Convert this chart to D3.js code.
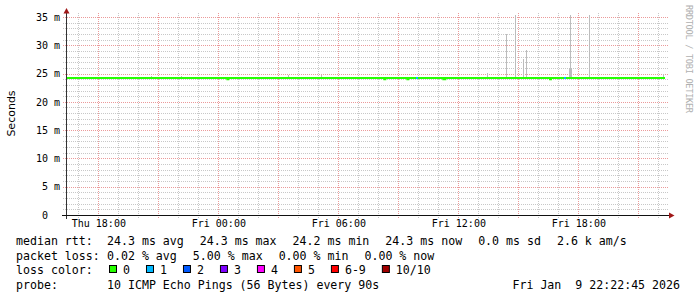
<!DOCTYPE html>
<html>
<head>
<meta charset="utf-8">
<script src="https://cdn.jsdelivr.net/npm/d3@7"></script>
<style>
  body { margin: 0; background: #fff; }
  svg { display: block; }
  text { white-space: pre; }
</style>
</head>
<body>
<svg width="697" height="297"></svg>
<script>
const parse = d3.timeParse("%Y-%m-%d %H:%M");

// visible time window (30 hours)
const windowStart = "2026-01-08 16:26";
const windowEnd = "2026-01-09 22:26";

// median rtt in ms, as steps: start time, value, lost pings (of 10)
const medianTimes = [
  "2026-01-08 16:26", "2026-01-09 00:27", "2026-01-09 00:30",
  "2026-01-09 08:18", "2026-01-09 08:21", "2026-01-09 09:27", "2026-01-09 09:30",
  "2026-01-09 09:53", "2026-01-09 09:59", "2026-01-09 11:15", "2026-01-09 11:21",
  "2026-01-09 16:35", "2026-01-09 16:38", "2026-01-09 17:17", "2026-01-09 17:23"
];
const medianValues = [24.2, 24.0, 24.2, 24.0, 24.2, 24.0, 24.2, 24.2, 24.2, 24.0, 24.2, 24.0, 24.2, 24.2, 24.2];
const medianLoss   = [0,    0,    0,    0,    0,    0,    0,    1,    0,    0,    0,    0,    0,    1,    0];
const medianEnd = "2026-01-09 22:20";

// smoke: the highest pings that stick out above the median
const smokeTimes = [
  "2026-01-08 20:40", "2026-01-08 22:10", "2026-01-09 03:29", "2026-01-09 05:11",
  "2026-01-09 13:27", "2026-01-09 14:24", "2026-01-09 14:51", "2026-01-09 15:14",
  "2026-01-09 15:24", "2026-01-09 17:33", "2026-01-09 17:36", "2026-01-09 17:39",
  "2026-01-09 18:33", "2026-01-09 22:15"
];
const smokeMax = [24.6, 24.6, 24.7, 24.7, 25.05, 32.0, 35.35, 27.6, 29.2, 25.9, 35.35, 25.9, 35.35, 24.9];

const yTicks = [0, 5, 10, 15, 20, 25, 30, 35];
const yTickLabels = ["0  ", "5 m", "10 m", "15 m", "20 m", "25 m", "30 m", "35 m"];

const lossLabels = ["0", "1", "2", "3", "4", "5", "6-9", "10/10"];
const lossColors = ["#26ff00", "#00b8ff", "#0059ff", "#7e00ff", "#ff00ff", "#ff5500", "#ff0000", "#a00000"];

const rttStats = ["24.3 ms avg", "24.3 ms max", "24.2 ms min", "24.3 ms now", "0.0 ms sd", "2.6 k am/s"];
const lossStats = ["0.02 % avg", "5.00 % max", "0.00 % min", "0.00 % now"];
const probeText = "10 ICMP Echo Pings (56 Bytes) every 90s";
const stampText = "Fri Jan  9 22:22:45 2026";

const svg = d3.select("svg");
const mono = "'DejaVu Sans Mono', monospace";

const x = d3.scaleTime()
  .domain([parse(windowStart), parse(windowEnd)])
  .range([67, 667]);
const y = d3.scaleLinear().domain([0, 35.7]).range([215, 13]);

const px = v => Math.floor(v) + 0.5;
const py = v => Math.round(v) + 0.5;

// grid
const grid = svg.append("g").attr("stroke-dasharray", "1,1").attr("fill", "none");
const hours = x.ticks(d3.timeHour.every(1));
const majorHours = x.ticks(d3.timeHour.every(3)).map(d => +d);

grid.selectAll(".vmin")
  .data(hours.filter(d => !majorHours.includes(+d)))
  .enter().append("line")
  .attr("x1", d => px(x(d))).attr("x2", d => px(x(d)))
  .attr("y1", 13).attr("y2", 218)
  .attr("stroke", "#c8c8c8");

const minorMs = d3.range(0, 36, 1).filter(v => v % 5 !== 0);
grid.selectAll(".hmin")
  .data(minorMs)
  .enter().append("line")
  .attr("x1", 63).attr("x2", 669)
  .attr("y1", d => py(y(d))).attr("y2", d => py(y(d)))
  .attr("stroke", "#c8c8c8");

grid.selectAll(".vmaj")
  .data(majorHours)
  .enter().append("line")
  .attr("x1", d => px(x(d))).attr("x2", d => px(x(d)))
  .attr("y1", 13).attr("y2", 218)
  .attr("stroke", "#eb9a9a");

grid.selectAll(".hmaj")
  .data(yTicks.slice(1))
  .enter().append("line")
  .attr("x1", 63).attr("x2", 669)
  .attr("y1", d => py(y(d))).attr("y2", d => py(y(d)))
  .attr("stroke", "#eb9a9a");

// smoke
svg.append("g").selectAll("rect")
  .data(smokeTimes.map((t, i) => ({ t: parse(t), hi: smokeMax[i] })))
  .enter().append("rect")
  .attr("x", d => Math.floor(x(d.t)))
  .attr("width", d => Math.max(1, Math.round(x(d3.timeMinute.offset(d.t, 3)) - x(d.t))))
  .attr("y", d => Math.round(y(d.hi)))
  .attr("height", d => Math.round(y(24.2)) - Math.round(y(d.hi)))
  .attr("fill", "#bcbcbc");

// median line
const steps = medianTimes.map((t, i) => ({ t: parse(t), v: medianValues[i], loss: medianLoss[i] }));
steps.push({ t: parse(medianEnd), v: medianValues[medianValues.length - 1], loss: 0 });

const line = d3.line().x(d => x(d.t)).y(d => y(d.v)).curve(d3.curveStepAfter);
svg.append("path")
  .datum(steps)
  .attr("d", line)
  .attr("fill", "none")
  .attr("stroke", lossColors[0])
  .attr("stroke-width", 2);

const lossBucket = l => l <= 5 ? l : (l < 10 ? 6 : 7);
svg.append("g").selectAll("path")
  .data(steps.slice(0, -1).map((d, i) => [d, steps[i + 1]]).filter(p => p[0].loss > 0))
  .enter().append("path")
  .attr("d", p => line([p[0], { t: p[1].t, v: p[0].v }]))
  .attr("fill", "none")
  .attr("stroke", p => lossColors[lossBucket(p[0].loss)])
  .attr("stroke-width", 2);

// axes
svg.append("line").attr("x1", 66.5).attr("x2", 66.5).attr("y1", 11).attr("y2", 219)
  .attr("stroke", "#333");
svg.append("line").attr("x1", 62).attr("x2", 670).attr("y1", 215.5).attr("y2", 215.5)
  .attr("stroke", "#111");
svg.append("path").attr("d", "M63.5,13.5L69.5,13.5L66.5,8Z").attr("fill", "#a01818");
svg.append("path").attr("d", "M669,212.5L669,218.5L674.5,215.5Z").attr("fill", "#a01818");

const yAxis = svg.append("g")
  .attr("transform", "translate(66,0)")
  .call(d3.axisLeft(y).tickValues(yTicks).tickFormat((d, i) => yTickLabels[i]).tickSize(0).tickPadding(6));
yAxis.select(".domain").remove();
yAxis.selectAll("text").attr("font-family", mono).attr("font-size", 10).attr("fill", "#000");

const xAxis = svg.append("g")
  .attr("transform", "translate(0,215)")
  .call(d3.axisBottom(x).ticks(d3.timeHour.every(6)).tickFormat(d3.timeFormat("%a %H:%M")).tickSize(0).tickPadding(5));
xAxis.select(".domain").remove();
xAxis.selectAll("text").attr("font-family", mono).attr("font-size", 10).attr("fill", "#000");

// axis title
svg.append("text")
  .attr("transform", "translate(14.5,113.5) rotate(-90)")
  .attr("text-anchor", "middle")
  .attr("font-family", "'DejaVu Sans', sans-serif")
  .attr("font-size", 11)
  .text("Seconds");

// watermark
svg.append("text")
  .attr("transform", "translate(685.5,5) rotate(90)")
  .attr("font-family", mono)
  .attr("font-size", 8.6)
  .attr("textLength", 108)
  .attr("lengthAdjust", "spacing")
  .attr("fill", "#b0b0b0")
  .text("RRDTOOL / TOBI OETIKER");

// legend
const lg = svg.append("g").attr("font-family", mono).attr("font-size", 11.6).attr("fill", "#000");
const rowY = [245, 259.5, 274, 288.5];

function statRow(label, items, yy) {
  lg.append("text").attr("x", 16).attr("y", yy).text(label);
  let cx = 107;
  items.forEach(s => {
    const t = lg.append("text").attr("x", cx).attr("y", yy).text(s);
    cx += t.node().getComputedTextLength() + 16;
  });
}
statRow("median rtt:", rttStats, rowY[0]);
statRow("packet loss:", lossStats, rowY[1]);

lg.append("text").attr("x", 16).attr("y", rowY[2]).text("loss color:");
let bx = 109;
lossLabels.forEach((lab, i) => {
  lg.append("rect")
    .attr("x", bx + 0.5).attr("y", rowY[2] - 8.5)
    .attr("width", 7).attr("height", 7)
    .attr("fill", lossColors[i]).attr("stroke", "#000").attr("stroke-width", 1);
  const t = lg.append("text").attr("x", bx + 14).attr("y", rowY[2]).text(lab);
  bx += 14 + t.node().getComputedTextLength() + 16;
});

lg.append("text").attr("x", 16).attr("y", rowY[3]).text("probe:");
lg.append("text").attr("x", 107).attr("y", rowY[3]).text(probeText);
lg.append("text").attr("x", 680).attr("y", rowY[3]).attr("text-anchor", "end").text(stampText);
</script>
</body>
</html>
